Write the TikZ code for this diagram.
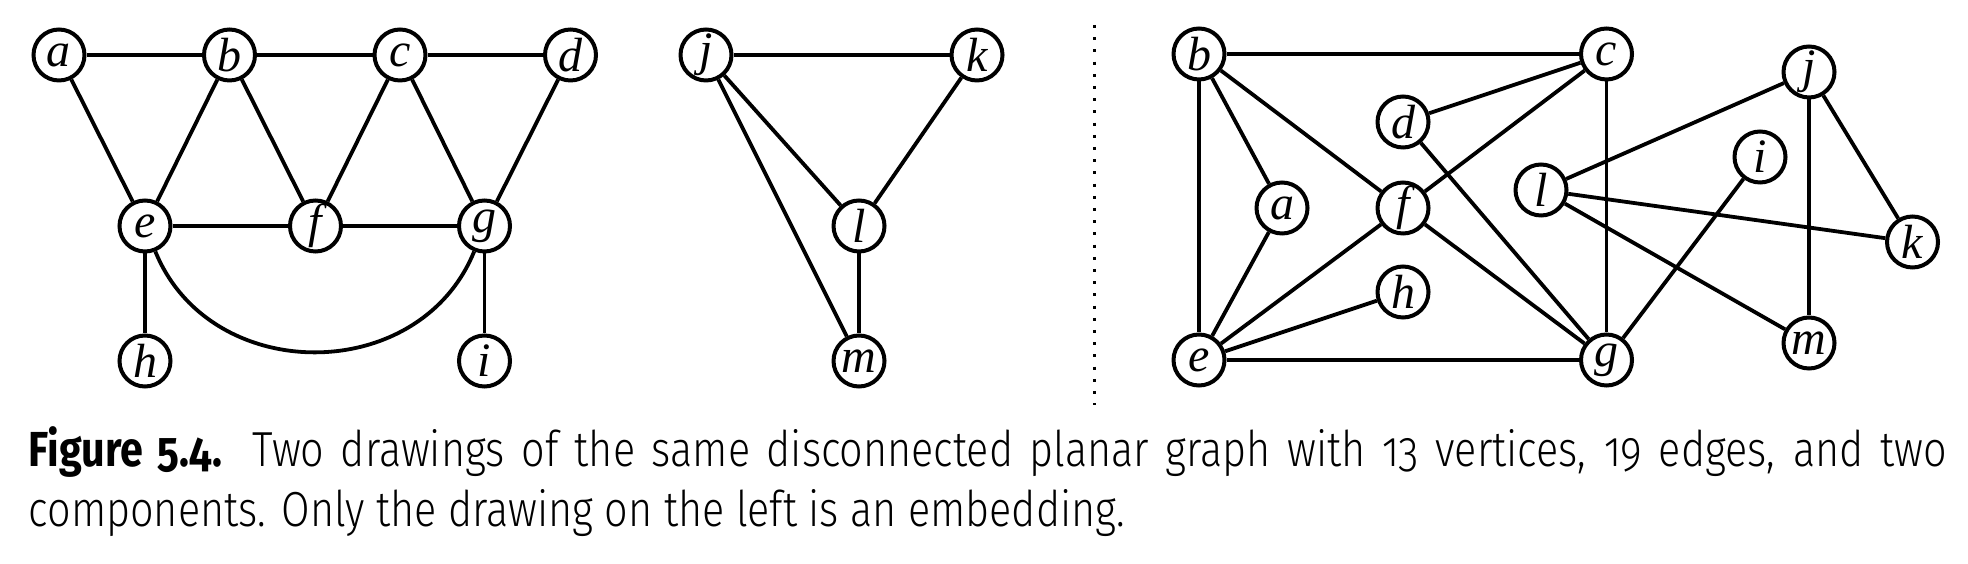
\documentclass[tikz,border=0pt]{standalone}
\usepackage{fontspec}
\setmainfont{Fira Sans Light}[BoldFont={Fira Sans Bold},Numbers=OldStyle,FakeStretch=0.84]
\newfontfamily\vertexfont{Liberation Serif}
\usetikzlibrary{positioning}
\begin{document}
\begin{tikzpicture}[
  x=0.25pt,y=-0.25pt,
  vertex/.style={
    draw,
    circle,
    line width=1pt,
    minimum size=12.75pt,
    inner sep=0pt,
    font=\vertexfont\itshape\fontsize{12}{12}\selectfont
  },
  edge/.style={line width=0.95pt},
  divider/.style={line width=0.75pt,dash pattern=on 0.75pt off 2.3pt},
  caption/.style={
    anchor=base west,
    inner sep=0pt,
    align=justify,
    text width=479.5pt,
    font=\fontsize{12.3}{15}\selectfont
  }
]
\useasboundingbox (0,0) rectangle (1968,564);
\node[vertex] (la) at (59,55) {a};
\node[vertex] (lb) at (229.5,55) {b};
\node[vertex] (lc) at (400,55) {c};
\node[vertex] (ld) at (570.5,55) {d};
\node[vertex] (le) at (145,226) {e};
\node[vertex] (lf) at (315.5,226) {f};
\node[vertex] (lg) at (484.5,226) {g};
\node[vertex] (lh) at (145,361) {h};
\node[vertex] (li) at (484.5,361) {i};
\node[vertex] (lj) at (706,55) {j};
\node[vertex] (lk) at (977,55) {k};
\node[vertex] (ll) at (859,226) {l};
\node[vertex] (lm) at (859,361) {m};
\draw[edge] (la) -- (lb);
\draw[edge] (lb) -- (lc);
\draw[edge] (lc) -- (ld);
\draw[edge] (la) -- (le);
\draw[edge] (lb) -- (le);
\draw[edge] (lb) -- (lf);
\draw[edge] (lc) -- (lf);
\draw[edge] (lc) -- (lg);
\draw[edge] (ld) -- (lg);
\draw[edge] (le) -- (lf);
\draw[edge] (lf) -- (lg);
\draw[edge] (le) -- (lh);
\draw[edge] (lg) -- (li);
\draw[edge] (le) .. controls +(65,160) and +(-65,160) .. (lg);
\draw[edge] (lj) -- (lk);
\draw[edge] (lj) -- (ll);
\draw[edge] (lj) -- (lm);
\draw[edge] (lk) -- (ll);
\draw[edge] (ll) -- (lm);
\coordinate (divtop) at (1094.5,25);
\coordinate (divbottom) at (1094.5,405);
\draw[divider] (divtop) -- (divbottom);
\node[vertex] (rb) at (1199,54) {b};
\node[vertex] (rc) at (1606.5,54) {c};
\node[vertex] (re) at (1199,360) {e};
\node[vertex] (rg) at (1606.5,360) {g};
\node[vertex] (rd) at (1403,122) {d};
\node[vertex] (ra) at (1282,208) {a};
\node[vertex] (rf) at (1403,208) {f};
\node[vertex] (rh) at (1403,292) {h};
\node[vertex] (rl) at (1541,190) {l};
\node[vertex] (ri) at (1760,157) {i};
\node[vertex] (rj) at (1809,72) {j};
\node[vertex] (rk) at (1912.5,242) {k};
\node[vertex] (rm) at (1809,343) {m};
\draw[edge] (rb) -- (rc);
\draw[edge] (rb) -- (re);
\draw[edge] (rb) -- (ra);
\draw[edge] (rb) -- (rf);
\draw[edge] (rc) -- (rd);
\draw[edge] (rc) -- (rf);
\draw[edge] (rc) -- (rg);
\draw[edge] (rd) -- (rg);
\draw[edge] (ra) -- (re);
\draw[edge] (rf) -- (re);
\draw[edge] (rf) -- (rg);
\draw[edge] (rh) -- (re);
\draw[edge] (re) -- (rg);
\draw[edge] (rg) -- (ri);
\draw[edge] (rl) -- (rj);
\draw[edge] (rl) -- (rk);
\draw[edge] (rl) -- (rm);
\draw[edge] (rj) -- (rm);
\draw[edge] (rj) -- (rk);
\node[caption] (figcaption) at (28,467) {
  \textbf{Figure 5.4.} Two drawings of the same disconnected planar graph with 13 vertices, 19 edges, and two\linebreak
  components. Only the drawing on the left is an embedding.
};
\end{tikzpicture}
\end{document}
